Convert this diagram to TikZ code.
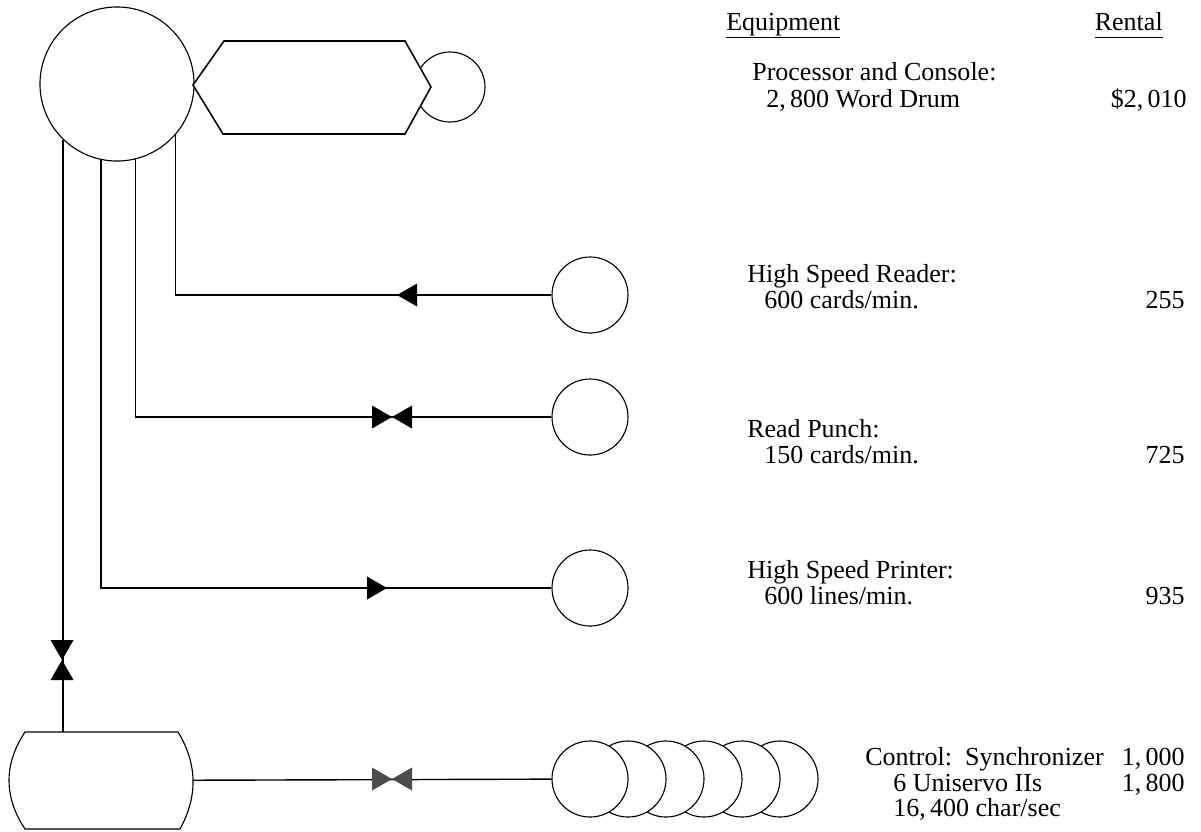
\documentclass[tikz,border=0pt]{standalone}
\usepackage{fontspec}
\setmainfont{Liberation Serif}
\usetikzlibrary{positioning}

\begin{document}
\begin{tikzpicture}[
    x=0.025cm, y=-0.025cm,
    dev/.style={circle, draw, fill=white, inner sep=0pt, line width=0.8pt},
    bigdev/.style={dev, minimum size=3.85cm},
    iodev/.style={dev, minimum size=1.9cm},
    wire/.style={line width=1pt},
    txt/.style={font=\fontsize{18.5}{24}\selectfont, inner sep=0pt, anchor=base west},
    cost/.style={font=\fontsize{18.5}{24}\selectfont, inner sep=0pt, anchor=base east},
    vlv/.pic={\fill[pic actions] (0,0) -- (-20,-11.5) -- (-20,11.5) -- cycle;},
  ]
  \useasboundingbox (0,0) rectangle (1201,831);

  % Processor, drum and console
  \node[bigdev] (proc) at (117,84) {};
  \node[dev, minimum size=1.75cm] (cons) at (450,87) {};
  \draw[line width=1.1pt, fill=white] (193,85) -- (224,41) -- (405,41) -- (431,87)
    -- (405,134) -- (223,134) -- cycle;

  % Input / output units
  \node[iodev] (reader) at (590,295) {};
  \node[iodev] (punch) at (590,417) {};
  \node[iodev] (printer) at (590,588) {};

  % Tape control and Uniservos
  \node[minimum width=4.6cm, minimum height=2.425cm, inner sep=0pt] (ctrl) at (101,780.5) {};
  \draw[line width=0.8pt] (25,732) -- (178,732) .. controls (197.7,764) and (197.7,797) .. (180,829)
    -- (25,829) .. controls (3.7,797) and (3.7,764) .. cycle;
  \foreach \i in {5,4,...,0}
    \node[iodev] (tape\i) at (590+38*\i,779) {};

  % Connections
  \draw[wire] (proc.-41) |- (reader);
  \draw[wire] (proc.-76.5) |- (punch);
  \draw[wire] (proc.-102) |- (printer);
  \draw[wire] (proc.-134.5) -- (proc.-134.5 |- ctrl.north);
  \draw[wire] (ctrl) -- (tape0);

  % Direction marks
  \pic[rotate=180] at (397,295) {vlv};
  \pic at (392,417) {vlv};
  \pic[rotate=180] at (392,417) {vlv};
  \pic at (387,588) {vlv};
  \pic[rotate=-90] at (62,660) {vlv};
  \pic[rotate=90] at (62,660) {vlv};
  \pic[fill=black!70] at (392,779) {vlv};
  \pic[fill=black!70, rotate=180] at (392,779) {vlv};

  % Table
  \node[txt] (hdeq) at (726,30) {\underline{Equipment}};
  \node[cost] (hdrent) at (1163,30) {\underline{Rental\vphantom{q}}};
  \node[txt] (pcname) at (752,80) {Processor and Console:};
  \node[txt] (pcspec) at (766,107) {2,\,800 Word Drum};
  \node[cost] (pccost) at (1187,107) {\$2,\,010};
  \node[txt] (rdname) at (747,282) {High Speed Reader:};
  \node[txt] (rdspec) at (764,308) {600 cards/min.};
  \node[cost] (rdcost) at (1185,308) {255};
  \node[txt] (pnname) at (747,437) {Read Punch:};
  \node[txt] (pnspec) at (764,463) {150 cards/min.};
  \node[cost] (pncost) at (1185,463) {725};
  \node[txt] (prname) at (747,578) {High Speed Printer:};
  \node[txt] (prspec) at (764,604) {600 lines/min.};
  \node[cost] (prcost) at (1185,604) {935};
  \node[txt] (tpname) at (865,765) {Control:\ \ Synchronizer};
  \node[cost] (tpcost) at (1185,765) {1,\,000};
  \node[txt] (tpunit) at (893,791) {6 Uniservo IIs};
  \node[cost] (tpucost) at (1185,791) {1,\,800};
  \node[txt] (tpspeed) at (893,816) {16,\,400 char/sec};
\end{tikzpicture}
\end{document}
